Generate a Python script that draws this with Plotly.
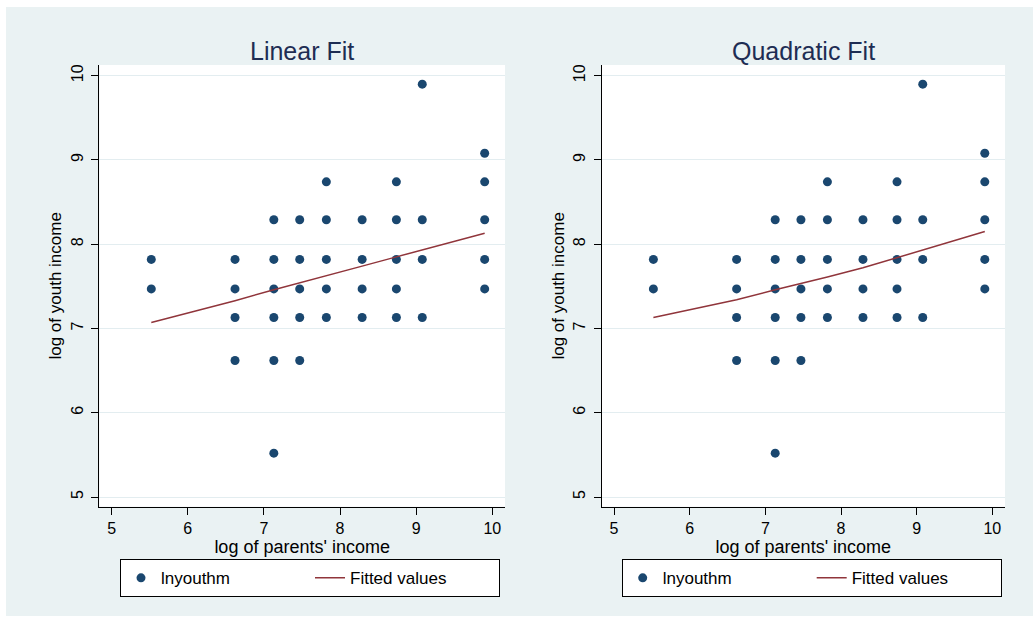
import plotly.graph_objects as go

# ---- data ----
parents_x = [5.52, 5.52,
             6.62, 6.62, 6.62, 6.62,
             7.13, 7.13, 7.13, 7.13, 7.13, 7.13,
             7.47, 7.47, 7.47, 7.47, 7.47,
             7.82, 7.82, 7.82, 7.82, 7.82,
             8.29, 8.29, 8.29, 8.29,
             8.74, 8.74, 8.74, 8.74, 8.74,
             9.08, 9.08, 9.08, 9.08,
             9.90, 9.90, 9.90, 9.90, 9.90]
youth_y = [7.82, 7.47,
           7.82, 7.47, 7.13, 6.62,
           8.29, 7.82, 7.47, 7.13, 6.62, 5.52,
           8.29, 7.82, 7.47, 7.13, 6.62,
           8.74, 8.29, 7.82, 7.47, 7.13,
           8.29, 7.82, 7.47, 7.13,
           8.74, 8.29, 7.82, 7.47, 7.13,
           9.90, 8.29, 7.82, 7.13,
           9.08, 8.74, 8.29, 7.82, 7.47]

fit_x = [5.52, 6.62, 7.13, 7.47, 7.82, 8.29, 8.74, 9.08, 9.90]
linear_fit = [7.07, 7.33, 7.46, 7.54, 7.63, 7.74, 7.85, 7.93, 8.13]
quad_fit = [7.13, 7.34, 7.46, 7.53, 7.61, 7.72, 7.84, 7.93, 8.15]

panel_titles = ["Linear Fit", "Quadratic Fit"]
tick_vals = [5, 6, 7, 8, 9, 10]
x_title = "log of parents' income"
y_title = "log of youth income"

# ---- style ----
W, H = 1033, 621
BG = "#EAF2F3"
NAVY = "#1A476F"
MAROON = "#90353B"
TITLE_C = "#1E2D53"
FONT = "Liberation Sans, Arial, sans-serif"


def fx(px):
    return px / W


def fy(py):
    return 1 - py / H


fig = go.Figure()

fits = [linear_fit, quad_fit]
for i in range(2):
    sfx = "" if i == 0 else "2"
    leg = "legend" if i == 0 else "legend2"
    fig.add_trace(go.Scatter(
        x=parents_x, y=youth_y, mode="markers", name="lnyouthm",
        marker=dict(color=NAVY, size=9, line=dict(width=0)),
        xaxis="x" + sfx, yaxis="y" + sfx, legend=leg))
    fig.add_trace(go.Scatter(
        x=fit_x, y=fits[i], mode="lines", name="Fitted values",
        line=dict(color=MAROON, width=1.5),
        xaxis="x" + sfx, yaxis="y" + sfx, legend=leg))

# pixel geometry -> domains
ytop, ybot = 65, 506.7
x_doms = [(99.3, 505), (601.7, 1005)]


def xaxis_cfg(dom, anchor):
    return dict(domain=[fx(dom[0]), fx(dom[1])], anchor=anchor,
                range=[4.837, 10.167], tickvals=tick_vals,
                ticks="outside", ticklen=7, tickwidth=1, tickcolor="black",
                showline=True, linecolor="black", linewidth=1,
                showgrid=False, zeroline=False,
                tickfont=dict(family=FONT, size=16, color="black"),
                title=dict(text=x_title, standoff=0,
                           font=dict(family=FONT, size=18, color="black")))


def yaxis_cfg(anchor):
    return dict(domain=[fy(ybot), fy(ytop)], anchor=anchor,
                range=[4.885, 10.127], tickvals=tick_vals,
                ticks="outside", ticklen=7, tickwidth=1, tickcolor="black",
                tickangle=-90, ticklabelstandoff=2,
                showline=True, linecolor="black", linewidth=1,
                showgrid=True, gridcolor="#E3EDF0", gridwidth=1, zeroline=False,
                tickfont=dict(family=FONT, size=16, color="black"),
                title=dict(text=y_title, standoff=2,
                           font=dict(family=FONT, size=17, color="black")))


legend_common = dict(orientation="h", yanchor="top", xanchor="left",
                     bgcolor="white", bordercolor="black", borderwidth=1,
                     font=dict(family=FONT, size=17, color="black"),
                     entrywidth=144, entrywidthmode="pixels")

annotations = []
for i, t in enumerate(panel_titles):
    cx = (x_doms[i][0] + x_doms[i][1]) / 2
    annotations.append(dict(text=t, x=fx(cx), y=fy(50.5), xref="paper", yref="paper",
                            xanchor="center", yanchor="middle", showarrow=False,
                            font=dict(family=FONT, size=25, color=TITLE_C)))

white = dict(fillcolor="white", line=dict(width=0), layer="above",
             xref="paper", yref="paper", type="rect")
shapes = [
    dict(white, x0=0, x1=1, y0=fy(7), y1=1),
    dict(white, x0=0, x1=fx(6), y0=0, y1=1),
    dict(white, x0=0, x1=1, y0=0, y1=fy(616)),
]

fig.update_layout(
    width=W, height=H, autosize=False,
    margin=dict(l=0, r=0, t=0, b=0, autoexpand=False),
    paper_bgcolor=BG, plot_bgcolor="white",
    xaxis=xaxis_cfg(x_doms[0], "y"), yaxis=yaxis_cfg("x"),
    xaxis2=xaxis_cfg(x_doms[1], "y2"), yaxis2=yaxis_cfg("x2"),
    legend=dict(legend_common, x=fx(120), y=fy(559.3)),
    legend2=dict(legend_common, x=fx(621.7), y=fy(559.3)),
    annotations=annotations, shapes=shapes,
    font=dict(family=FONT),
)

fig.write_html("out.html",
               config={"displayModeBar": False},
               post_script="document.body.style.margin='0';"
                           "document.body.style.overflow='hidden';")
